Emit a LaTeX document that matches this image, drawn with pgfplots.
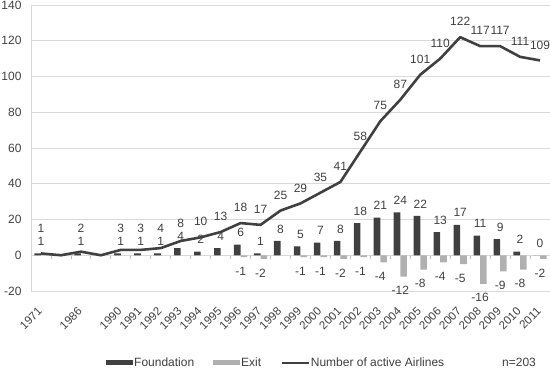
\documentclass[border=0pt]{standalone}
\usepackage{pgfplots}
\pgfplotsset{compat=1.18}
\usepackage{pgfplotstable}
\usepackage{fontspec}
\setmainfont{Liberation Sans}
\definecolor{txt}{HTML}{404040}
\definecolor{dark}{HTML}{404040}
\definecolor{light}{HTML}{B0B0B0}
\definecolor{gridc}{HTML}{D9D9D9}
\definecolor{axc}{HTML}{BFBFBF}
\pgfplotsset{/pgf/number format/assume math mode=true}

\pgfplotstableread{
x v
0 1
1 0
2 2
3 0
4 3
5 3
6 4
7 8
8 10
9 13
10 18
11 17
12 25
13 29
14 35
15 41
16 58
17 75
18 87
19 101
20 110
21 122
22 117
23 117
24 111
25 109
}\linedata

\pgfplotstableread{
x ly v
0 6.4 1
2 6.4 2
4 6.4 3
5 6.4 3
6 6.4 4
7 9.2 8
8 10.5 10
9 13 13
10 18 18
11 17 17
12 25 25
13 29 29
14 35 35
15 41 41
16 58 58
17 75 75
18 87 87
19 101 101
20 110 110
21 122 122
22 117 117
23 117 117
24 111 111
25 109 109
}\linelab

\pgfplotstableread{
x v
0 1
2 1
4 1
5 1
6 1
7 4
8 2
9 4
10 6
11 1
12 8
13 5
14 7
15 8
16 18
17 21
18 24
19 22
20 13
21 17
22 11
23 9
24 2
25 0
}\found

\pgfplotstableread{
x v
10 -1
11 -2
13 -1
14 -1
15 -2
16 -1
17 -4
18 -12
19 -8
20 -4
21 -5
22 -16
23 -9
24 -8
25 -2
}\exitd

\begin{document}
\begin{tikzpicture}[font=\fontsize{12bp}{14bp}\selectfont, text=txt]
% zero line with ticks
\begin{axis}[
  at={(0,0)}, anchor=south west,
  scale only axis, width=519bp, height=286bp,
  xmin=-0.5, xmax=25.5, ymin=-20, ymax=140,
  axis x line=middle, axis y line=none,
  axis line style={-, draw=axc, line width=0.8bp},
  xtick={-0.5,0.5,...,25.5}, xticklabels={},
  ytick=\empty,
  major tick length=4bp, xtick align=outside,
  every tick/.style={draw=axc, line width=0.8bp},
]
\addplot[draw=none] coordinates {(0,0)};
\end{axis}
\begin{axis}[
  at={(0,0)}, anchor=south west,
  scale only axis, width=519bp, height=286bp,
  xmin=-0.5, xmax=25.5, ymin=-20, ymax=140,
  axis x line=bottom, axis y line=left,
  axis line style={-, draw=gridc, line width=0.8bp},
  ytick={-20,0,...,140},
  ymajorgrids, major grid style={draw=gridc, line width=0.8bp},
  xtick={0,...,25},
  xticklabels={1971,,1986,,1990,1991,1992,1993,1994,1995,1996,1997,1998,1999,2000,2001,2002,2003,2004,2005,2006,2007,2008,2009,2010,2011},
  major tick length=0pt,
  xticklabel style={yshift=-14bp, xshift=-4bp, rotate=45, anchor=north east, inner sep=1bp, font=\fontsize{11.5bp}{13bp}\selectfont},
  yticklabel style={xshift=-6bp},
  ticklabel style={text=txt},
  clip=false,
  legend style={draw=none, at={(axis description cs:0.1445,-0.2517)}, anchor=west,
    legend columns=3, inner sep=0pt, font=\fontsize{12bp}{14bp}\selectfont, text=txt,
    /tikz/every even column/.append style={column sep=18bp},
    nodes={inner sep=1bp}},
  legend cell align=left,
]
\addplot[ybar, bar width=6.6bp, bar shift=-3.3bp, fill=dark, draw=none,
  nodes near coords, point meta=explicit,
  every node near coord/.append style={anchor=center, yshift=12bp, text=txt, font=\fontsize{12bp}{14bp}\selectfont},
  legend image code/.code={\fill[dark] (0bp,-2.5bp) rectangle (27bp,2.5bp);}]
  table[x=x, y=v, meta=v] {\found};
\addlegendentry{Foundation}
\addplot[ybar, bar width=6.6bp, bar shift=3.3bp, fill=light, draw=none,
  nodes near coords, point meta=explicit,
  every node near coord/.append style={anchor=center, yshift=-14bp, text=txt, font=\fontsize{12bp}{14bp}\selectfont},
  legend image code/.code={\fill[light] (0bp,-2.5bp) rectangle (27bp,2.5bp);}]
  table[x=x, y=v, meta=v] {\exitd};
\addlegendentry{Exit}
\addplot[sharp plot, draw=dark, line width=2.6bp, mark=none, line join=round,
  legend image code/.code={\draw[dark, line width=2.6bp] (0bp,0bp) -- (27bp,0bp);}]
  table[x=x, y=v] {\linedata};
\addlegendentry{Number of active Airlines}
\addplot[draw=none, mark=none, nodes near coords, point meta=explicit,
  every node near coord/.append style={anchor=center, yshift=15.5bp, text=txt, font=\fontsize{12bp}{14bp}\selectfont}]
  table[x=x, y=ly, meta=v] {\linelab};
\node[anchor=west, inner sep=0pt, text=txt] at (axis description cs:0.9075,-0.248) {n=203};
\end{axis}
\pgfresetboundingbox
\path (-31bp,-77bp) rectangle (519bp,291bp);
\end{tikzpicture}
\end{document}
